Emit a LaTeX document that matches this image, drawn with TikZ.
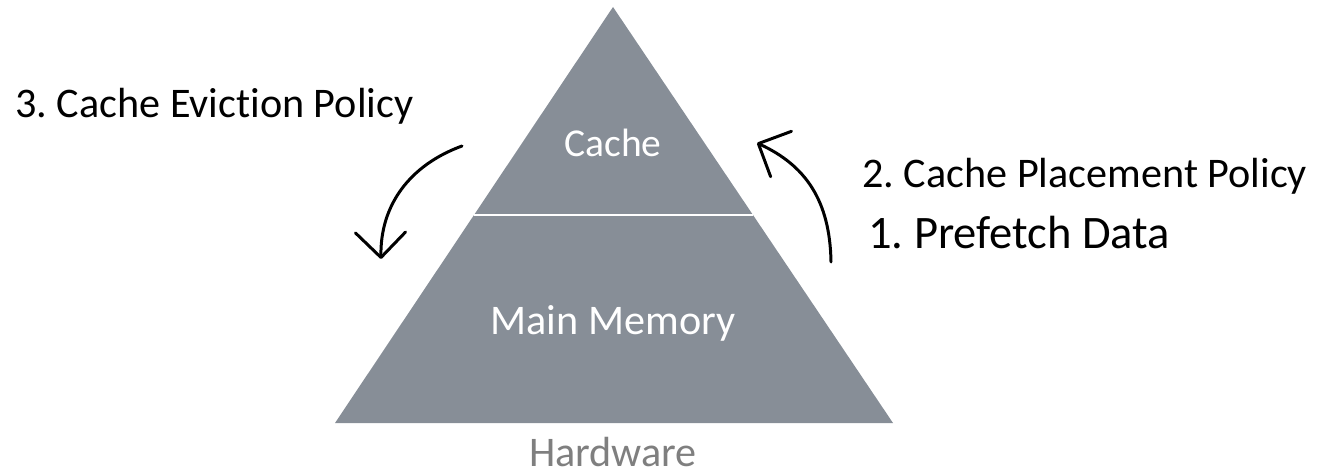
\documentclass[tikz,border=0pt]{standalone}
\usepackage{fontspec}
\setmainfont{Carlito}[Ligatures=NoCommon]
\frenchspacing
\usetikzlibrary{arrows.meta, calc}
\definecolor{pyramid}{RGB}{135,142,151}
\definecolor{hwgray}{RGB}{127,127,127}

\begin{document}
\begin{tikzpicture}[x=0.02cm, y=-0.02cm,
        txt/.style={font=\fontsize{24}{28}\selectfont, anchor=base, inner sep=0pt},
        level/.style={txt, text=white},
        turn/.style={line width=1.7pt, line cap=round,
            -{Straight Barb[length=0.5cm, width=1.0cm, round]}}]
        \useasboundingbox (0, 0) rectangle (1319, 476);
        % Pyramid
        \coordinate (apex) at (613, 7);
        \coordinate (baseL) at (335, 423);
        \coordinate (baseR) at (893, 423);
        \fill [pyramid] (apex) -- (baseL) -- (baseR) -- cycle;
        \draw [white, line width=1.7pt] ($(apex)!0.5!(baseL)$) -- ($(apex)!0.5!(baseR)$);
        % Levels
        \node [level, font=\fontsize{22.5}{27}\selectfont] (cache) at (613, 157) {Cache};
        \node [level] (memory) at (613, 335) {Main Memory};
        \node [txt, text=hwgray] (hardware) at (613, 466) {Hardware};
        % Policies
        \node [txt, anchor=base west] (evict) at (15, 118) {3. Cache Eviction Policy};
        \node [txt, anchor=base west] (place) at (862, 188) {2. Cache Placement Policy};
        \node [txt, anchor=base west, font=\fontsize{26.5}{31}\selectfont] (fetch) at (868, 249) {1. Prefetch Data};
        % Arrows
        \coordinate (evictS) at (462, 146);
        \coordinate (evictE) at (381, 259);
        \coordinate (placeS) at (831, 262);
        \coordinate (placeE) at (757, 143);
        \draw [turn] (evictS) .. controls (410, 165) and (380, 205) .. (evictE);
        \draw [turn] (placeS) .. controls (830, 200) and (805, 165) .. (placeE);
    \end{tikzpicture}
\end{document}
